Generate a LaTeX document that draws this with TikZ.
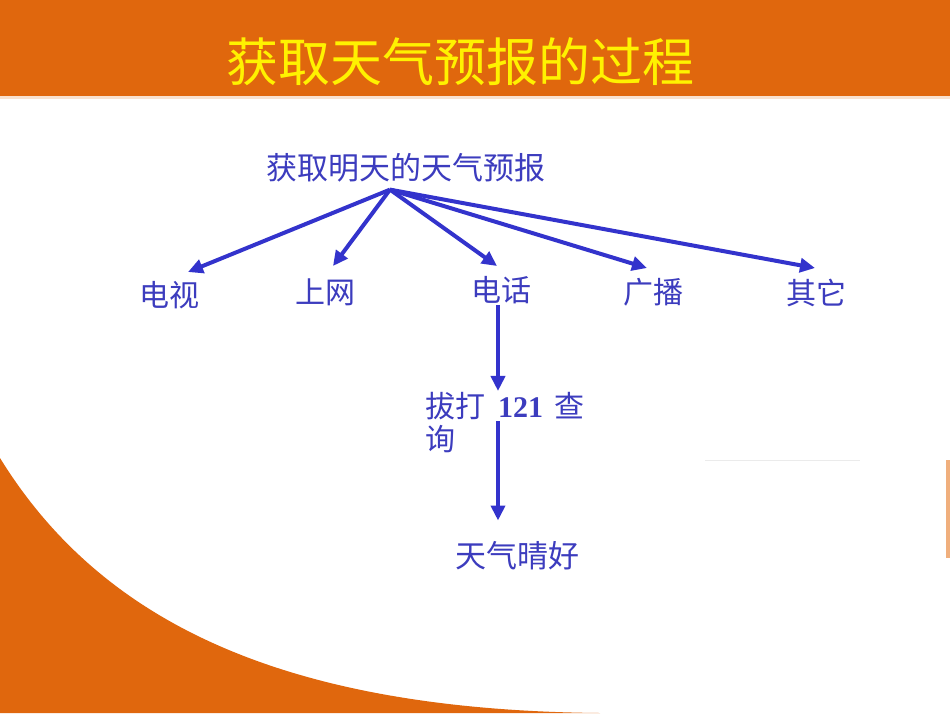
\documentclass[tikz,border=0pt]{standalone}
\usepackage{fontspec}
\setmainfont{Noto Sans CJK SC}
\newfontfamily\numfont{Liberation Serif}
\usetikzlibrary{arrows.meta,calc}
\definecolor{bandorange}{RGB}{224,103,13}
\definecolor{lineblue}{RGB}{51,51,204}
\definecolor{textblue}{RGB}{60,60,190}
\definecolor{fadeorange}{RGB}{240,175,125}

\begin{document}
\begin{tikzpicture}[x=1pt,y=-1pt,
    item/.style={text=textblue,font=\fontsize{30}{36}\selectfont,inner sep=1pt},
    flow/.style={draw=lineblue,line width=4pt,-{Triangle[length=15pt,width=14pt]}}]
    \useasboundingbox (0,0) rectangle (950,713);
    \fill[white] (0,0) rectangle (950,713);
    % header band
    \fill[bandorange] (0,0) rectangle (950,96);
    \fill[bandorange!20] (0,96) rectangle (950,99);
    \node[text=yellow,font=\fontsize{52}{60}\selectfont] (title) at (460,62) {获取天气预报的过程};
    % background shapes
    \fill[bandorange] (0,458) .. controls (100,620) and (280,710) .. (600,713) -- (0,713) -- cycle;
    \fill[fadeorange] (946,460) rectangle (950,558);
    \draw[black!8,line width=1pt] (705,460) -- (860,460);
    % nodes
    \node[item,font=\fontsize{31}{36}\selectfont] (root) at (406,168) {获取明天的天气预报};
    \coordinate (src) at ($(root.south)+(-16,6)$);
    \node[item] (tv) at (169,295) {电视};
    \node[item] (web) at (325,292) {上网};
    \node[item] (phone) at (501,290) {电话};
    \node[item] (radio) at (653,292) {广播};
    \node[item] (other) at (816,293) {其它};
    \node[item,anchor=west] (dial) at (424,406) {拔打\hspace{13pt}{\numfont\bfseries 121}\hspace{11pt}查};
    \node[item,anchor=west] (dialb) at (424,439) {询};
    \node[item,font=\fontsize{31}{36}\selectfont] (good) at (517,556) {天气晴好};
    \coordinate (stem) at (498,0);
    % arrows
    \begin{scope}[flow]
        \draw (src) -- ($(tv)+(19,-23)$);
        \draw (src) -- ($(web)+(8,-26)$);
        \draw (src) -- ($(phone)+(-4,-24)$);
        \draw (src) -- ($(radio)+(-6,-24)$);
        \draw (src) -- ($(other)+(-1,-25)$);
        \draw (phone.south -| stem) -- (dial.north -| stem);
        \draw[shorten >=20pt] (dial.south -| stem) -- (good.north -| stem);
    \end{scope}
\end{tikzpicture}
\end{document}
